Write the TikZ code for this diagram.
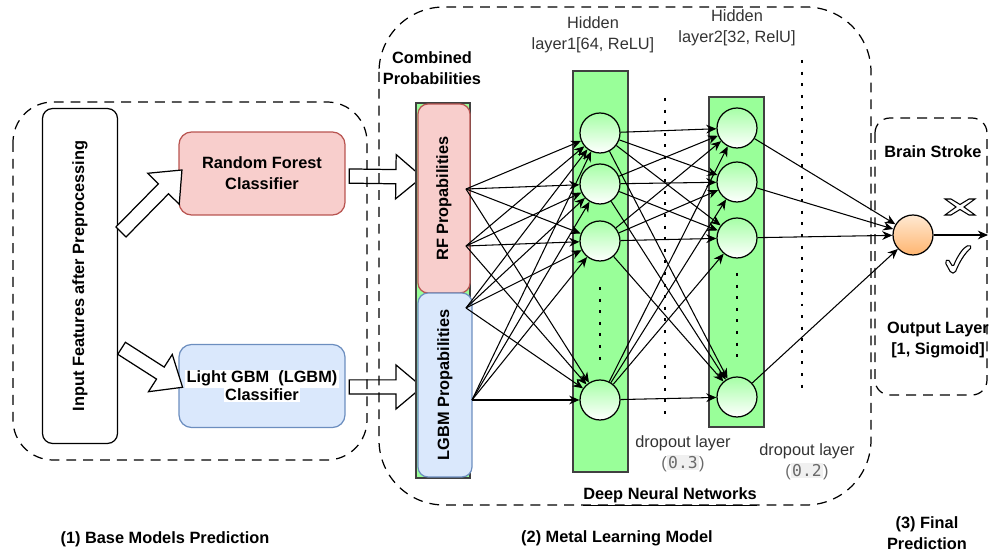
\documentclass[tikz,border=0pt]{standalone}
\usepackage{fontspec}
\setmainfont{Liberation Sans}
\newfontfamily\codefont{DejaVu Sans Mono}
\usetikzlibrary{arrows.meta, calc, positioning, shapes.arrows}

\definecolor{rfpink}{HTML}{F8CECC}
\definecolor{rfborder}{HTML}{B85450}
\definecolor{lgbmblue}{HTML}{DAE8FC}
\definecolor{lgbmborder}{HTML}{6C8EBF}
\definecolor{layergreen}{HTML}{99FF99}
\definecolor{neurongreen}{HTML}{A6FFA6}
\definecolor{outlight}{HTML}{FFE9D2}
\definecolor{outdark}{HTML}{FFB570}
\definecolor{codebg}{HTML}{F0F0F0}
\definecolor{codegray}{HTML}{6A6A6A}

% hollow block arrow between two named points
\newcommand{\fatarrow}[3]{%
  \path let \p1=($(#2)-(#1)$), \n1={atan2(\y1,\x1)}, \n2={veclen(\x1,\y1)} in
    node[fat arrow, minimum height=\n2, rotate=\n1] (#3) at ($(#1)!0.5!(#2)$) {};}
\newcommand{\codetxt}[1]{{\color{codegray}(\setlength{\fboxsep}{0.8pt}\colorbox{codebg}{\codefont #1})}}

\begin{document}
\begin{tikzpicture}[x=0.02cm, y=-0.02cm,
        > = {Stealth[length=5.8pt, width=5pt]},
  txt/.style = {font=\fontsize{9.3}{11.9}\selectfont, align=center, inner sep=0pt},
 btxt/.style = {txt, font=\fontsize{9.3}{11.9}\selectfont\bfseries},
group/.style = {draw, line width=0.7pt, dash pattern=on 5.6pt off 4pt},
clsbox/.style = {btxt, draw, line width=0.7pt, rounded corners=0.25cm,
              minimum width=3.32cm, minimum height=1.66cm},
probbox/.style = {btxt, draw, line width=0.7pt, rounded corners=0.2cm, rotate=90},
layer/.style = {draw=black!75, line width=0.7pt, fill=layergreen,
              minimum width=1.1cm, inner sep=0pt},
neuron/.style = {circle, draw, line width=0.7pt, minimum size=0.8cm, inner sep=0pt,
              top color=neurongreen, bottom color=white},
dots/.style = {line width=1.7pt, dash pattern=on 1.7pt off 4.9pt},
fat arrow/.style = {single arrow, draw, fill=white, line width=0.7pt, inner sep=0.13cm,
              single arrow head extend=0.3cm, single arrow tip angle=80,
              single arrow head indent=0pt},
link/.style = {->, line width=0.6pt}
                    ]
    \useasboundingbox (0,0) rectangle (992,553);

    % (1) base models
    \node[btxt, draw, line width=0.7pt, rounded corners=0.2cm, fill=white, rotate=90,
          minimum width=6.7cm, minimum height=1.5cm] (input) at (80,276)
          {Input Features after Preprocessing};
    \node[clsbox, fill=rfpink, draw=rfborder] (rf) at (262,173.5) {Random Forest\\Classifier};
    \node[clsbox, fill=lgbmblue, draw=lgbmborder] (lgbm) at (262,386)
          {\setlength{\fboxsep}{0.8pt}\colorbox{white}{Light GBM\ \ (LGBM)}\\[-1.6pt]
           \setlength{\fboxsep}{0.8pt}\colorbox{white}{Classifier}};

    \coordinate (inA) at (118,235);
    \coordinate (rfA) at (179,173);
    \coordinate (inB) at (118,346);
    \coordinate (lgA) at (179,385);
    \coordinate (rfB) at (345,176);
    \coordinate (lgB) at (345,387);
    \coordinate (rfpA) at (418,177);
    \coordinate (lgpA) at (418,387);
    \fatarrow{inA}{rfA}{a1}
    \fatarrow{inB}{lgA}{a2}
    \fatarrow{rfB}{rfpA}{a3}
    \fatarrow{lgB}{lgpA}{a4}

    % (2) combined probabilities
    \node[layer, minimum width=1.08cm, minimum height=7.5cm] (comb) at (443,290.5) {};
    \node[probbox, fill=rfpink, draw=rfborder, minimum width=3.78cm, minimum height=1.04cm]
          (rfprob) at (444,198.5) {RF Propabilities};
    \node[probbox, fill=lgbmblue, draw=lgbmborder, minimum width=3.68cm, minimum height=1.08cm]
          (lgbmprob) at (445,385) {LGBM Propabilities};
    \node[btxt] (combtxt) at (432,68) {Combined\\Probabilities};

    % hidden layers
    \node[layer, minimum height=8.02cm] (hl1) at (600.5,271.5) {};
    \node[layer, minimum height=6.6cm] (hl2) at (736.5,262) {};
    \node[txt, text=black!80] (hl1txt) at (593,35) {Hidden\\layer1[64, ReLU]};
    \node[txt, text=black!80] (hl2txt) at (737,28) {Hidden\\layer2[32, RelU]};

    \foreach \y [count=\i] in {133,184,241,400}
        \node[neuron] (h1\i) at (600,\y) {};
    \foreach \y [count=\i] in {128,182,238,397}
        \node[neuron] (h2\i) at (737,\y) {};
    \node[neuron, top color=outlight, bottom color=outdark] (out) at (913,235) {};
    \coordinate (res) at (988,235);

    \draw[dots] (600,287) -- (600,367);
    \draw[dots] (737,273) -- (737,363);
    \draw[dots] (665,98) -- (665,420);
    \draw[dots] (802,60) -- (802,393);

    \foreach \p [count=\i] in {{466,189},{466,246},{466,308},{472,400}}
        \coordinate (s\i) at (\p);
    \foreach \i in {1,...,4}
        \foreach \j in {1,...,4}
            \draw[link] (s\i) -- (h1\j);
    \foreach \i in {1,...,4}
        \foreach \j in {1,...,4}
            \draw[link] (h1\i) -- (h2\j);
    \foreach \j in {1,...,4}
        \draw[link] (h2\j) -- (out);
    \draw[link] (out) -- (res);

    \node[txt, text=black!80] (drop1) at (683,454) {dropout layer\\\codetxt{0.3}};
    \node[txt, text=black!80] (drop2) at (807,462) {dropout layer\\\codetxt{0.2}};
    \node[btxt] (dnn) at (670,497) {\underline{Deep Neural Networks}};

    % (3) output
    \node[btxt] (braintxt) at (933,152) {Brain Stroke};
    \node[btxt] (outtxt) at (938,340) {Output Layer\\{[1, Sigmoid]}};
    \draw[fill=white, line width=0.6pt, shift={(960,207)}]
        (-15,-8) -- (-9,-8) -- (0,-2.5) -- (9,-8) -- (15,-8) -- (4,0) -- (15,8)
        -- (9,8) -- (0,2.5) -- (-9,8) -- (-15,8) -- (-4,0) -- cycle;
    \draw[fill=white, line width=0.6pt, shift={(958,259)}, rounded corners=1pt]
        (-13,3) -- (-10,0) -- (-5,8) .. controls (0,-4) and (5,-11) .. (11,-14)
        -- (14,-12) .. controls (6,-5) and (1,4) .. (-3,14) -- (-7,14) -- cycle;

    % dashed groups
    \draw[group, rounded corners=0.8cm] (13,102) rectangle (367,460);
    \draw[group, rounded corners=1.3cm] (379,7) rectangle (871,505);
    \draw[group, rounded corners=0.3cm] (875,118) rectangle (987,395);

    % captions
    \node[btxt] (cap1) at (165,539) {(1) Base Models Prediction};
    \node[btxt] (cap2) at (617,538) {(2) Metal Learning Model};
    \node[btxt] (cap3) at (927,533) {(3) Final\\Prediction};
\end{tikzpicture}
\end{document}
